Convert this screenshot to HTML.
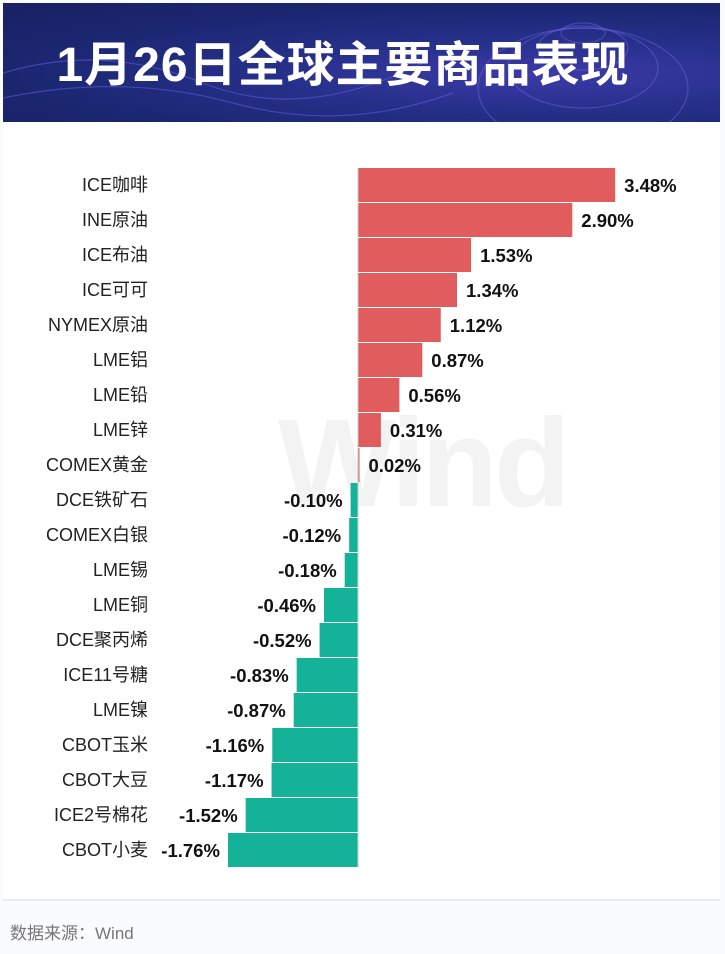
<!DOCTYPE html>
<html><head><meta charset="utf-8">
<style>
body{margin:0;width:725px;height:954px;background:#fafbfc;font-family:"Liberation Sans","Noto Sans CJK SC",sans-serif;position:relative;overflow:hidden}
#header{position:absolute;left:3px;top:3px;width:717px;height:119px;background:radial-gradient(ellipse at 75% 60%,#3d3aa8 0%,#26308a 35%,#1b2670 70%,#182163 100%)}
#title{position:absolute;left:0;width:680px;top:22px;text-align:center;color:#fff;font-size:48px;font-weight:bold;font-family:"Liberation Sans","Noto Sans CJK SC",sans-serif;letter-spacing:1px}
#card{position:absolute;left:3px;top:122px;width:717px;height:777px;background:#fff;border-bottom:2px solid #e6e9ee}
#wm{position:absolute;left:275px;top:270px;font-size:125px;font-weight:bold;color:#f3f3f3;letter-spacing:-4px}
#footer{position:absolute;left:10px;top:919px;font-size:17px;color:#777}
</style></head><body>
<div id="header">
<svg width="717" height="119" style="position:absolute;left:0;top:0">
<g fill="none" stroke="#6a60e0" stroke-opacity="0.5" stroke-width="1.2">
<ellipse cx="580" cy="30" rx="22" ry="10"/><ellipse cx="580" cy="45" rx="45" ry="22"/><ellipse cx="580" cy="65" rx="75" ry="40"/><ellipse cx="580" cy="85" rx="105" ry="60"/>
<path d="M0 70 Q100 40 200 80 T420 60"/><path d="M0 95 Q120 70 230 100 T450 90"/>
</g></svg>
<div id="title">1月26日全球主要商品表现</div>
</div>
<div id="card"><div id="wm">Wind</div></div>
<svg id="chart" width="725" height="954" style="position:absolute;left:0;top:0"></svg>
<div id="footer">数据来源：Wind</div>
<script>
const categories=["ICE咖啡","INE原油","ICE布油","ICE可可","NYMEX原油","LME铝","LME铅","LME锌","COMEX黄金","DCE铁矿石","COMEX白银","LME锡","LME铜","DCE聚丙烯","ICE11号糖","LME镍","CBOT玉米","CBOT大豆","ICE2号棉花","CBOT小麦"];
const values=[3.48,2.90,1.53,1.34,1.12,0.87,0.56,0.31,0.02,-0.10,-0.12,-0.18,-0.46,-0.52,-0.83,-0.87,-1.16,-1.17,-1.52,-1.76];
const valueLabels=["3.48%","2.90%","1.53%","1.34%","1.12%","0.87%","0.56%","0.31%","0.02%","-0.10%","-0.12%","-0.18%","-0.46%","-0.52%","-0.83%","-0.87%","-1.16%","-1.17%","-1.52%","-1.76%"];
const svg=document.getElementById('chart');const NS='http://www.w3.org/2000/svg';
const x0=358,scale=73.9,top0=168,pitch=35,bh=34;
const xs=v=>x0+v*scale;const ys=i=>top0+i*pitch;
function mk(t,a){const e=document.createElementNS(NS,t);for(const k in a)e.setAttribute(k,a[k]);svg.appendChild(e);return e;}
categories.forEach((c,i)=>{
 const v=values[i];const y=ys(i);
 const x1=Math.min(xs(0),xs(v)),w=Math.max(Math.abs(xs(v)-xs(0)),1.5);
 const r=mk('rect',{x:x1,y:y,width:w,height:bh,fill:v>=0?'#e05c5d':'#15b29a'});
 
 
 const t=mk('text',{x:148,y:y+bh/2+6,'text-anchor':'end','font-size':18,fill:'#222'});
 t.textContent=c;
 
 
 const vl=mk('text',{x:v>=0?xs(v)+9:xs(v)-8,y:y+bh/2+7,'text-anchor':v>=0?'start':'end','font-size':18.5,'font-weight':'bold',fill:'#111'});
 vl.textContent=valueLabels[i];
 
 
});
const ax=mk('line',{x1:x0,x2:x0,y1:top0,y2:ys(categories.length),stroke:'#ccc','stroke-width':1});


</script>
</body></html>
